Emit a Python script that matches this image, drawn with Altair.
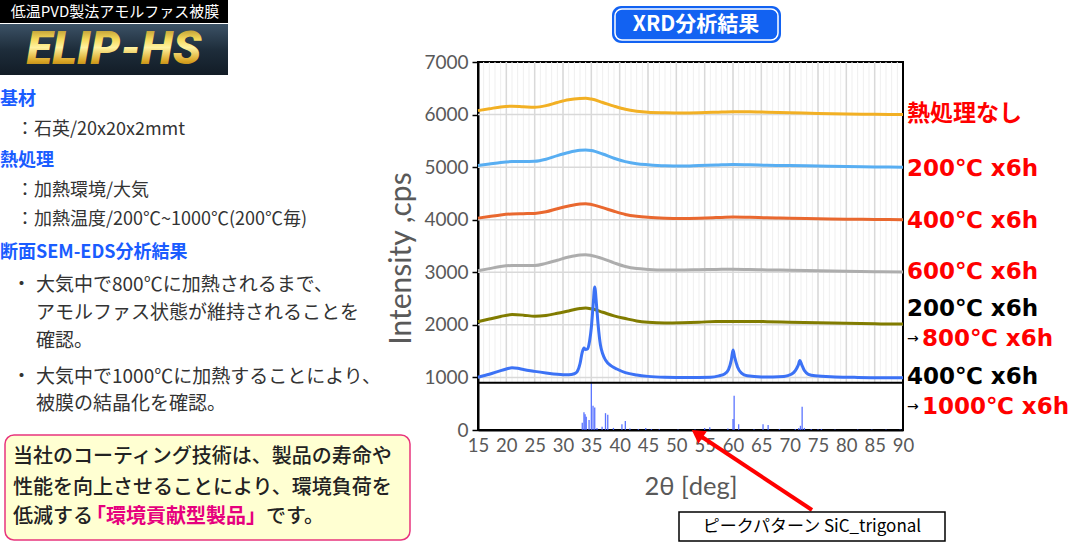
import altair as alt
import pandas as pd

X0, Y0 = 478, 62          # plot-area origin inside the 1074x543 page
W, H = 425, 368
JP = "Noto Sans CJK JP"
LAT = "Lato"
LAB = "DejaVu Sans, Noto Sans CJK JP"

# ---------------- data ----------------
two_theta = [15, 17, 19, 21, 23, 25, 27, 29, 31, 33, 34, 35, 37, 39, 41, 43, 45,
             48, 51, 54, 57, 60, 63, 66, 70, 75, 80, 85, 90]
s_none = [6075, 6110, 6145, 6160, 6150, 6140, 6170, 6230, 6280, 6305, 6310, 6295, 6230, 6160, 6100, 6065, 6045,
          6035, 6030, 6035, 6045, 6055, 6055, 6045, 6035, 6020, 6010, 6005, 6000]
s_200 = [5030, 5060, 5090, 5105, 5105, 5110, 5150, 5220, 5280, 5320, 5325, 5315, 5250, 5170, 5105, 5065, 5045,
         5025, 5020, 5030, 5040, 5050, 5045, 5035, 5030, 5020, 5010, 5005, 5000]
s_400 = [4030, 4060, 4090, 4110, 4115, 4120, 4150, 4210, 4260, 4300, 4305, 4290, 4230, 4160, 4100, 4065, 4045,
         4030, 4025, 4030, 4040, 4050, 4045, 4035, 4030, 4020, 4010, 4005, 4000]
s_600 = [3030, 3070, 3110, 3130, 3130, 3130, 3170, 3230, 3290, 3330, 3335, 3320, 3260, 3180, 3110, 3070, 3055,
         3045, 3045, 3050, 3055, 3060, 3055, 3045, 3040, 3030, 3020, 3010, 3005]
s_800 = [2060, 2110, 2160, 2195, 2185, 2165, 2180, 2220, 2265, 2310, 2320, 2305, 2240, 2170, 2120, 2075, 2050,
         2035, 2040, 2050, 2065, 2065, 2065, 2060, 2050, 2040, 2030, 2020, 2015]

two_theta_1000 = [15, 17, 19, 20, 21, 22, 23, 25, 27, 29, 31, 32, 32.5, 33, 33.4, 33.7, 34.0, 34.3, 34.7,
                  35.0, 35.3, 35.6, 35.9, 36.2, 36.6, 37.0, 37.5, 38.5, 39.5, 41, 43, 45, 48, 52, 56,
                  57.5, 58.5, 59.2, 59.7, 60.0, 60.3, 60.8, 61.5, 62.5, 65, 69, 70.3, 71.0, 71.5, 71.8,
                  72.1, 72.6, 73.3, 74.5, 78, 82, 86, 90]
s_1000 = [1005, 1060, 1130, 1160, 1185, 1175, 1150, 1115, 1085, 1060, 1050, 1070, 1110, 1260, 1480, 1560,
          1530, 1540, 1700, 1950, 2350, 2720, 2400, 2000, 1620, 1450, 1330, 1220, 1160, 1090, 1045, 1020,
          1005, 1000, 1005, 1030, 1065, 1150, 1330, 1520, 1380, 1200, 1080, 1030, 1010, 1020, 1060, 1130,
          1230, 1320, 1250, 1130, 1060, 1030, 1010, 1000, 995, 995]

series_names = ["熱処理なし", "200℃", "400℃", "600℃", "800℃", "1000℃"]
series_colors = ["#F2B024", "#58AEF2", "#E9682F", "#ADADAD", "#817C00", "#3C72F5"]

pat_theta = [33.4, 33.7, 33.9, 34.1, 34.6, 35.0, 35.3, 35.6, 36.0, 36.9, 37.5, 37.9, 38.9, 40.4, 41.0,
             41.8, 43.3, 44.6, 45.6, 47.0, 50.3, 53.3, 55.0, 55.9, 59.1, 60.0, 60.2, 61.0, 63.7, 65.3,
             66.2, 68.2, 71.0, 71.6, 71.9, 72.2, 72.6, 73.8, 75.0, 75.6, 78.0, 82.0, 84.5, 87.0, 89.5]
pat_int = [140, 340, 300, 250, 190, 900, 460, 430, 40, 60, 320, 290, 40, 110, 170,
           30, 20, 40, 20, 15, 10, 10, 40, 50, 30, 210, 650, 110, 15, 110,
           95, 20, 20, 40, 80, 440, 40, 20, 15, 20, 10, 10, 10, 8, 8]

x_ticks = [15, 20, 25, 30, 35, 40, 45, 50, 55, 60, 65, 70, 75, 80, 85, 90]
y_ticks = [0, 1000, 2000, 3000, 4000, 5000, 6000, 7000]
h_grid = [1000, 2000, 3000, 4000, 5000, 6000]
minor_grid = list(range(16, 90))
major_grid = [20, 25, 30, 35, 40, 45, 50, 55, 60, 65, 70, 75, 80, 85]
panel_split = 900

right_labels = [("熱処理なし", 907, 114, "#FF0000"), ("200℃ x6h", 907, 169, "#FF0000"),
                ("400℃ x6h", 907, 221, "#FF0000"), ("600℃ x6h", 907, 272, "#FF0000"),
                ("200℃ x6h", 907, 309, "#000000"), ("800℃ x6h", 922, 339, "#FF0000"),
                ("400℃ x6h", 907, 377, "#000000"), ("1000℃ x6h", 922, 407, "#FF0000")]

# ---------------- build tables ----------------
rows = []
for name, vals in zip(series_names[:5], [s_none, s_200, s_400, s_600, s_800]):
    for t, v in zip(two_theta, vals):
        rows.append({"deg": t, "cps": v, "s": name})
for t, v in zip(two_theta_1000, s_1000):
    rows.append({"deg": t, "cps": v, "s": series_names[5]})
curves = pd.DataFrame(rows)
pattern = pd.DataFrame({"deg": pat_theta, "cps": pat_int, "base": [0] * len(pat_theta)})

xs = alt.Scale(domain=[15, 90], nice=False, zero=False)
ys = alt.Scale(domain=[0, 7000], nice=False)
XAX = alt.Axis(values=x_ticks, format="d", title="2θ [deg]", ticks=False, grid=False, domainColor="#000000",
               domainWidth=2, labelFont=LAT, labelFontSize=18.5, labelColor="#595959",
               labelPadding=6, labelOverlap=False, labelFlush=False,
               titleFont=LAT, titleFontSize=25.5, titleColor="#595959",
               titleFontWeight="normal", titleY=56, titleBaseline="middle")
YAX = alt.Axis(values=y_ticks, format="d", title="Intensity ,cps", grid=False, domainColor="#000000",
               domainWidth=2, tickColor="#000000", tickSize=6, tickWidth=1.5,
               labelFont=LAT, labelFontSize=19, labelColor="#595959", labelPadding=4,
               labelOverlap=False, labelFlush=False,
               titleFont=LAT, titleFontSize=30, titleColor="#595959", titleFontWeight="normal",
               titleX=-77, titleY=H / 2 + 12, titleAngle=270, titleAlign="center",
               titleBaseline="middle")
one = pd.DataFrame({"a": [0]})


def X(f):
    return alt.X(f, scale=xs, axis=XAX)


def Y(f):
    return alt.Y(f, scale=ys, axis=YAX)


def px(v):
    return alt.value(v)


def txt(s, ax, ay, size, color, weight="normal", align="left", font=JP, baseline="middle", **kw):
    return alt.Chart(pd.DataFrame({"t": [s]})).mark_text(
        align=align, baseline=baseline, fontSize=size, color=color, fontWeight=weight, font=font, **kw
    ).encode(x=px(ax - X0), y=px(ay - Y0), text="t:N")


def box(ax1, ay1, ax2, ay2, **kw):
    return alt.Chart(one).mark_rect(**kw).encode(
        x=px(ax1 - X0), x2=px(ax2 - X0), y=px(ay1 - Y0), y2=px(ay2 - Y0))


# ---------------- chart layers ----------------
vg_minor = pd.DataFrame({"g": minor_grid, "lo": panel_split, "hi": 7000})
vg_major = pd.DataFrame({"g": major_grid, "lo": panel_split, "hi": 7000})
minor = alt.Chart(vg_minor).mark_rule(color="#EFEFEF", strokeWidth=1).encode(
    x=X("g:Q"), y=Y("lo:Q"), y2="hi:Q")
major = alt.Chart(vg_major).mark_rule(color="#D9D9D9", strokeWidth=1.5).encode(
    x=X("g:Q"), y=Y("lo:Q"), y2="hi:Q")
hgrid = alt.Chart(pd.DataFrame({"h": h_grid})).mark_rule(color="#D9D9D9", strokeWidth=1.5).encode(
    y=Y("h:Q"))

lines = alt.Chart(curves).mark_line(strokeWidth=3, interpolate="monotone").encode(
    x=X("deg:Q"), y=Y("cps:Q"),
    color=alt.Color("s:N", scale=alt.Scale(domain=series_names, range=series_colors), legend=None),
    detail="s:N",
)

bars = alt.Chart(pattern).mark_rule(color="#3D5CFF", strokeWidth=1.3, opacity=0.85).encode(
    x=X("deg:Q"), y=Y("base:Q"), y2="cps:Q")

sep = alt.Chart(pd.DataFrame({"h": [panel_split]})).mark_rule(color="#000000", strokeWidth=2).encode(
    y=Y("h:Q"))

layers = [minor, major, hgrid, lines, bars, sep]

# right-side labels
for s, ax, ay, c in right_labels:
    layers.append(txt(s, ax, ay, 23, c, weight="bold", font=LAB))
layers.append(txt("→", 907, 339, 14, "#000000", font=LAB))
layers.append(txt("→", 907, 407, 14, "#000000", font=LAB))

# title box
layers.append(box(612, 6, 781, 43, color="#1262F2", cornerRadius=9))
layers.append(box(615, 9, 778, 40, fill="#1262F2", stroke="#FFFFFF", strokeWidth=1.5, cornerRadius=7))
layers.append(txt("XRD分析結果", 696, 25, 21, "#FFFFFF", weight="bold", align="center"))

# callout
layers.append(alt.Chart(one).mark_rule(color="#FF0000", strokeWidth=4).encode(
    x=px(812 - X0), y=px(510 - Y0), x2=px(702 - X0), y2=px(437 - Y0)))
layers.append(alt.Chart(one).mark_point(shape="triangle", filled=True, color="#FF0000", opacity=1,
                                        size=230, angle=304).encode(x=px(699 - X0), y=px(435 - Y0)))
layers.append(box(679, 512, 945, 541, fill="#FFFFFF", stroke="#000000", strokeWidth=1.5))
layers.append(txt("ピークパターン SiC_trigonal", 812, 527, 17, "#000000", align="center"))

# logo
layers.append(box(0, 0, 228, 23, color="#000000"))
layers.append(txt("低温PVD製法アモルファス被膜", 115, 12, 15, "#FFFFFF", align="center"))
navy = alt.LinearGradient(gradient="linear", x1=0, x2=0, y1=0, y2=1,
                          stops=[alt.GradientStop(color="#3C5266", offset=0),
                                 alt.GradientStop(color="#1E2D3B", offset=0.5),
                                 alt.GradientStop(color="#121C26", offset=1)])
layers.append(box(0, 24, 228, 75, color=navy))
gold = alt.LinearGradient(gradient="linear", x1=0, x2=0, y1=0, y2=1,
                          stops=[alt.GradientStop(color="#8A6410", offset=0),
                                 alt.GradientStop(color="#F5D95A", offset=0.35),
                                 alt.GradientStop(color="#FFF2A0", offset=0.5),
                                 alt.GradientStop(color="#D9A423", offset=0.75),
                                 alt.GradientStop(color="#7A560A", offset=1)])
layers.append(alt.Chart(pd.DataFrame({"t": ["ELIP-HS"]})).mark_text(
    align="center", baseline="middle", fontSize=47, font="Roboto", fontStyle="italic", fontWeight=900,
    color=gold).encode(x=px(114 - X0), y=px(50 - Y0), text="t:N"))

# left text
BLUE = "#1A5CFF"
GRAY = "#333333"
layers += [
    txt("基材", 0, 100, 18, BLUE, weight="bold"),
    txt("：石英/20x20x2mmt", 16, 130, 18, GRAY),
    txt("熱処理", 0, 161, 18, BLUE, weight="bold"),
    txt("：加熱環境/大気", 16, 191, 18, GRAY),
    txt("：加熱温度/200℃~1000℃(200℃毎)", 16, 220, 18, GRAY),
    txt("断面SEM-EDS分析結果", 0, 253, 18, BLUE, weight="bold"),
    txt("・", 12, 285, 19, GRAY),
    txt("大気中で800℃に加熱されるまで、", 36, 285, 19, GRAY),
    txt("アモルファス状態が維持されることを", 36, 313, 19, GRAY),
    txt("確認。", 36, 341, 19, GRAY),
    txt("・", 12, 377, 19, GRAY),
    txt("大気中で1000℃に加熱することにより、", 36, 377, 19, GRAY),
    txt("被膜の結晶化を確認。", 36, 404, 19, GRAY),
]

# message box
layers.append(box(5, 435, 410, 540, fill="#FFFFD2", stroke="#E8357E", strokeWidth=1.5, cornerRadius=9))
layers += [
    txt("当社のコーティング技術は、製品の寿命や", 13, 457, 20, "#222222", weight=500),
    txt("性能を向上させることにより、環境負荷を", 13, 488, 20, "#222222", weight=500),
    txt("低減する", 13, 517, 20, "#222222", weight=500),
    txt("「環境貢献型製品」", 86, 517, 20, "#E6007E", weight="bold"),
    txt("です。", 266, 517, 20, "#222222", weight=500),
]

chart = alt.layer(*layers).properties(
    width=W, height=H,
    autosize=alt.AutoSizeParams(type="none"),
    padding={"left": X0, "top": Y0, "right": 1074 - X0 - W, "bottom": 543 - Y0 - H},
    background="#FFFFFF",
).configure_view(stroke="#000000", strokeWidth=2)

chart.save("out.html", embed_options={"renderer": "svg", "actions": False})
